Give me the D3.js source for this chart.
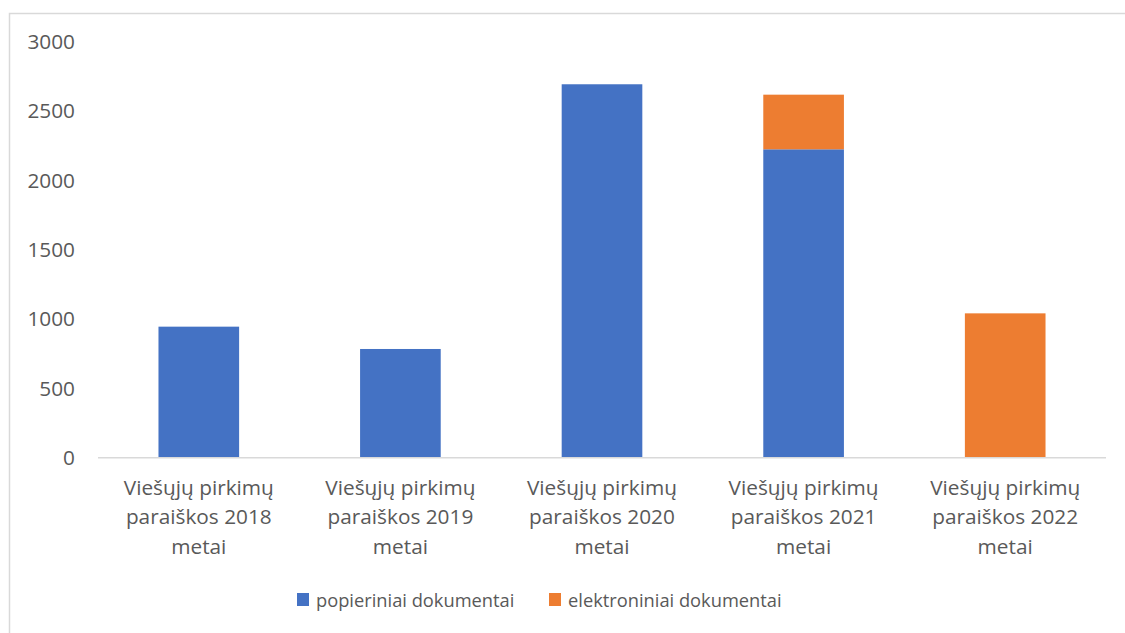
<!DOCTYPE html>
<html><head><meta charset="utf-8">
<script src="https://cdn.jsdelivr.net/npm/d3@7"></script>
<style>body{margin:0;background:#fff;}svg{display:block;}</style>
</head><body>
<script>
const categories = [
  ["Viešųjų pirkimų","paraiškos 2018","metai"],
  ["Viešųjų pirkimų","paraiškos 2019","metai"],
  ["Viešųjų pirkimų","paraiškos 2020","metai"],
  ["Viešųjų pirkimų","paraiškos 2021","metai"],
  ["Viešųjų pirkimų","paraiškos 2022","metai"]
];
const seriesNames = ["popieriniai dokumentai","elektroniniai dokumentai"];
const popieriniai = [945, 784, 2693, 2224, 0];
const elektroniniai = [0, 0, 0, 394, 1041];
const seriesColors = ["#4472C4","#ED7D31"];
const yTicks = [0,500,1000,1500,2000,2500,3000];

const W=1125,H=633;
const svg=d3.select("body").append("svg").attr("width",W).attr("height",H);
const font="'Open Sans', sans-serif";
const fsAxis=20.8, fsLeg=18.3;
// chart border
svg.append("path").attr("d","M9.5,640 L9.5,13.5 L1130,13.5").attr("fill","none").attr("stroke","#d9d9d9").attr("stroke-width",1.5);

const x=d3.scaleBand().domain(d3.range(categories.length)).range([98,1106]).paddingInner(0.6).paddingOuter(0.3);
const y=d3.scaleLinear().domain([0,3000]).range([457.7,41.7]);

const data=categories.map((c,i)=>({i,p:popieriniai[i],e:elektroniniai[i]}));
const stack=d3.stack().keys(["p","e"])(data);
stack.forEach((layer,k)=>{
  svg.append("g").selectAll("rect").data(layer).join("rect")
    .attr("x",d=>x(d.data.i)).attr("width",x.bandwidth())
    .attr("y",d=>y(d[1])).attr("height",d=>y(d[0])-y(d[1]))
    .attr("fill",seriesColors[k]);
});

// baseline
svg.append("line").attr("x1",98).attr("x2",1106).attr("y1",y(0)).attr("y2",y(0)).attr("stroke","#d9d9d9").attr("stroke-width",1.5);

// y axis
const ya=svg.append("g").attr("transform","translate(75,0)").call(d3.axisLeft(y).tickValues(yTicks).tickFormat(d3.format("d")).tickSize(0).tickPadding(0));
ya.select(".domain").remove();
ya.selectAll("text").attr("font-family",font).attr("font-size",fsAxis).attr("fill","#595959");

// x labels
const xl=svg.append("g");
categories.forEach((lines,i)=>{
  const t=xl.append("text").attr("x",x(i)+x.bandwidth()/2).attr("text-anchor","middle")
    .attr("font-family",font).attr("font-size",fsAxis).attr("fill","#595959");
  lines.forEach((l,j)=>t.append("tspan").attr("x",x(i)+x.bandwidth()/2).attr("y",495+j*29.3).text(l));
});

// legend
const leg=[{x:297,tx:316},{x:549,tx:568}];
seriesNames.forEach((n,k)=>{
  svg.append("rect").attr("x",leg[k].x).attr("y",593).attr("width",12).attr("height",13).attr("fill",seriesColors[k]);
  svg.append("text").attr("x",leg[k].tx).attr("y",607).attr("font-family",font).attr("font-size",fsLeg).attr("fill","#595959").text(n);
});
</script>
</body></html>
